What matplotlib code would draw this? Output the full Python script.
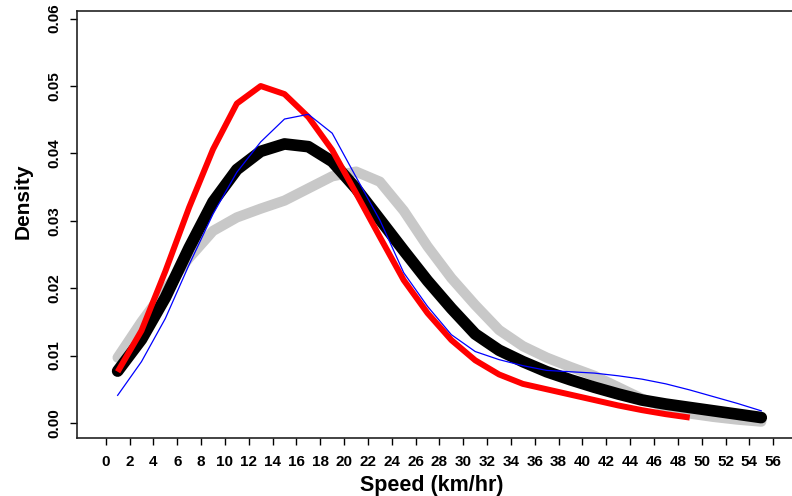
import matplotlib
matplotlib.use("Agg")
import matplotlib.pyplot as plt

# speed bins (km/hr), one density value per bin for each group
speed = [1, 3, 5, 7, 9, 11, 13, 15, 17, 19, 21, 23, 25, 27, 29, 31, 33, 35,
         37, 39, 41, 43, 45, 47, 49, 51, 53, 55]

dens_black = [0.0077, 0.0124, 0.0186, 0.0260, 0.0328, 0.0376, 0.0403, 0.0414,
              0.0410, 0.0388, 0.0348, 0.0302, 0.0256, 0.0211, 0.0170, 0.0132,
              0.0108, 0.0091, 0.0076, 0.0064, 0.0053, 0.0043, 0.0034, 0.0028,
              0.0023, 0.0018, 0.0013, 0.0008]

dens_gray = [0.0097, 0.0150, 0.0198, 0.0245, 0.0285, 0.0305, 0.0318, 0.0330,
             0.0348, 0.0366, 0.0373, 0.0358, 0.0315, 0.0262, 0.0215, 0.0175,
             0.0138, 0.0114, 0.0097, 0.0083, 0.0070, 0.0053, 0.0036, 0.0023,
             0.0014, 0.0009, 0.0005, 0.0002]

speed_red = speed[:25]
dens_red = [0.0076, 0.0137, 0.0225, 0.0320, 0.0406, 0.0474, 0.0500, 0.0488,
            0.0454, 0.0405, 0.0341, 0.0276, 0.0212, 0.0163, 0.0123, 0.0093,
            0.0072, 0.0058, 0.0050, 0.0042, 0.0034, 0.0026, 0.0019, 0.0013,
            0.0008]

dens_blue = [0.0041, 0.0091, 0.0155, 0.0235, 0.0310, 0.0372, 0.0417, 0.0451,
             0.0458, 0.0430, 0.0365, 0.0301, 0.0223, 0.0173, 0.0131, 0.0106,
             0.0094, 0.0085, 0.0078, 0.0076, 0.0074, 0.0070, 0.0065, 0.0058,
             0.0049, 0.0039, 0.0029, 0.0018]

x_ticks = list(range(0, 57, 2))
y_ticks = [0.00, 0.01, 0.02, 0.03, 0.04, 0.05, 0.06]

plt.rcParams["font.family"] = ["Liberation Sans", "DejaVu Sans"]
plt.rcParams["font.weight"] = "bold"

fig = plt.figure(figsize=(7.92, 4.96), dpi=100)
ax = fig.add_axes([77 / 792, 58 / 496, 723 / 792, 427 / 496])

ax.plot(speed, dens_gray, color="#c8c8c8", lw=7.4, solid_capstyle="round",
        solid_joinstyle="round", zorder=2)
ax.plot(speed, dens_black, color="black", lw=8.4, solid_capstyle="round",
        solid_joinstyle="round", zorder=3)
ax.plot(speed_red, dens_red, color="red", lw=4.3, solid_capstyle="butt",
        solid_joinstyle="round", zorder=4)
ax.plot(speed, dens_blue, color="#0000ff", lw=0.9, zorder=5)

ax.set_xlim(-2.41, 58.25)
ax.set_ylim(-0.00223, 0.06113)

ax.set_xticks(x_ticks)
ax.set_xticklabels([str(t) for t in x_ticks], fontsize=11, fontweight="bold")
ax.set_yticks(y_ticks)
ax.set_yticklabels([f"{t:.2f}" for t in y_ticks], fontsize=11, fontweight="bold",
                   rotation=90, va="center")
ax.tick_params(axis="x", direction="out", length=5, width=1, pad=7)
ax.tick_params(axis="y", direction="out", length=5, width=1, pad=6)

for side in ["left", "bottom", "top", "right"]:
    ax.spines[side].set_linewidth(1.2)
    ax.spines[side].set_color("#222222")

fig.text(432 / 792, 1 - 486 / 496, "Speed (km/hr)", fontsize=15.5,
         fontweight="bold", ha="center", va="center")
fig.text(23 / 792, 1 - 201 / 496, "Density", fontsize=15, fontweight="bold",
         ha="center", va="center", rotation=90)

fig.savefig("out.png", dpi=100)
